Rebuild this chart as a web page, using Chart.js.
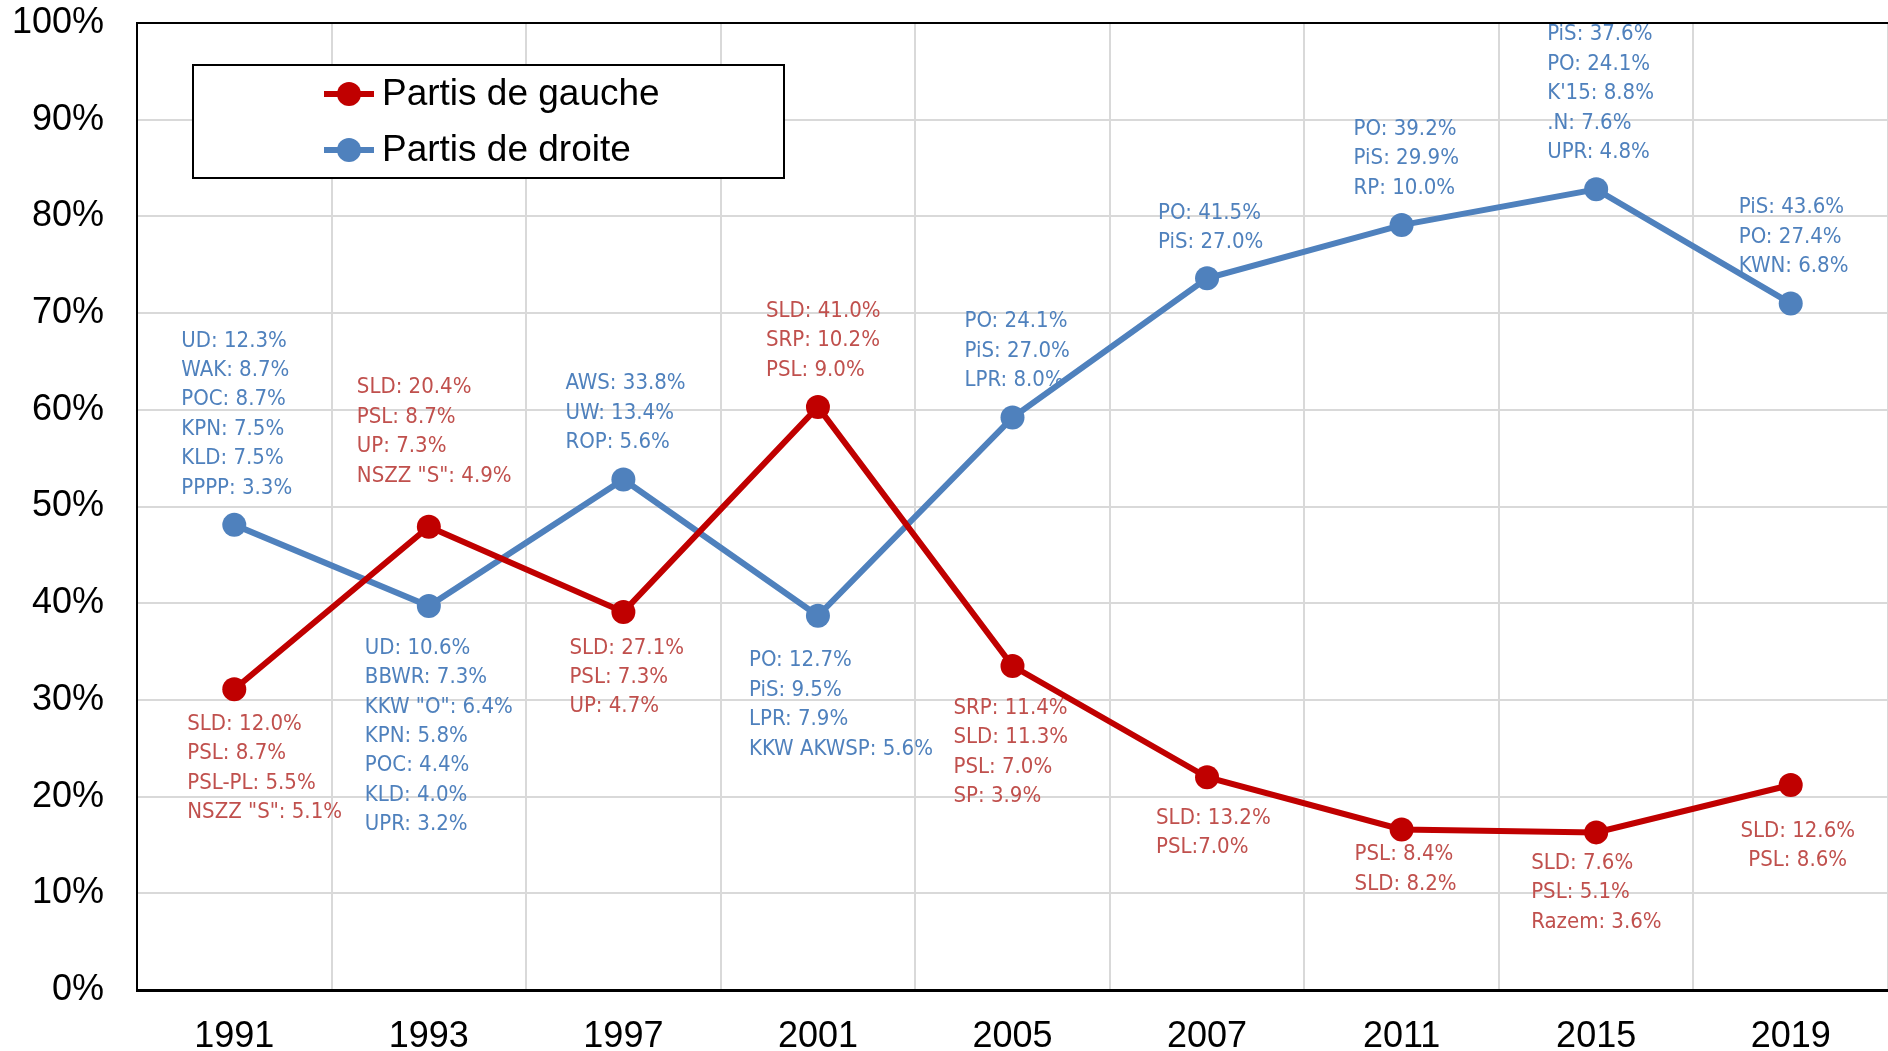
<!DOCTYPE html>
<html>
<head>
<meta charset="utf-8">
<script src="https://cdn.jsdelivr.net/npm/chart.js@4"></script>
<style>
html, body { margin: 0; padding: 0; background: #fff; overflow: hidden; }
canvas { display: block; }
</style>
</head>
<body>
<canvas id="chart" width="1888" height="1051"></canvas>
<script>
// categories and values
const years = ['1991', '1993', '1997', '2001', '2005', '2007', '2011', '2015', '2019'];
const gauche = [31.1, 47.9, 39.1, 60.3, 33.5, 22.0, 16.6, 16.3, 21.2];
const droite = [48.1, 39.7, 52.8, 38.7, 59.2, 73.6, 79.1, 82.8, 71.0];
const yTickStep = 10;

const gaucheNotes = [
  ['SLD: 12.0%', 'PSL: 8.7%', 'PSL-PL: 5.5%', 'NSZZ "S": 5.1%'],
  ['SLD: 20.4%', 'PSL: 8.7%', 'UP: 7.3%', 'NSZZ "S": 4.9%'],
  ['SLD: 27.1%', 'PSL: 7.3%', 'UP: 4.7%'],
  ['SLD: 41.0%', 'SRP: 10.2%', 'PSL: 9.0%'],
  ['SRP: 11.4%', 'SLD: 11.3%', 'PSL: 7.0%', 'SP: 3.9%'],
  ['SLD: 13.2%', 'PSL:7.0%'],
  ['PSL: 8.4%', 'SLD: 8.2%'],
  ['SLD: 7.6%', 'PSL: 5.1%', 'Razem: 3.6%'],
  ['SLD: 12.6%', 'PSL: 8.6%']
];
const droiteNotes = [
  ['UD: 12.3%', 'WAK: 8.7%', 'POC: 8.7%', 'KPN: 7.5%', 'KLD: 7.5%', 'PPPP: 3.3%'],
  ['UD: 10.6%', 'BBWR: 7.3%', 'KKW "O": 6.4%', 'KPN: 5.8%', 'POC: 4.4%', 'KLD: 4.0%', 'UPR: 3.2%'],
  ['AWS: 33.8%', 'UW: 13.4%', 'ROP: 5.6%'],
  ['PO: 12.7%', 'PiS: 9.5%', 'LPR: 7.9%', 'KKW AKWSP: 5.6%'],
  ['PO: 24.1%', 'PiS: 27.0%', 'LPR: 8.0%'],
  ['PO: 41.5%', 'PiS: 27.0%'],
  ['PO: 39.2%', 'PiS: 29.9%', 'RP: 10.0%'],
  ['PiS: 37.6%', 'PO: 24.1%', "K'15: 8.8%", '.N: 7.6%', 'UPR: 4.8%'],
  ['PiS: 43.6%', 'PO: 27.4%', 'KWN: 6.8%']
];

// where each note block sits relative to its point: [dx, dy, side, align]
const gauchePlace = [
  [-47, 35, 'below'], [-72, -51, 'above'], [-54, 36, 'below'], [-52, -37, 'above'],
  [-59, 42, 'below'], [-51, 41, 'below'], [-47, 25, 'below'], [-65, 31, 'below'],
  [7, 46, 'below', 'center']
];
const droitePlace = [
  [-53, -37, 'above'], [-64, 42, 'below'], [-58, -37, 'above'], [-69, 45, 'below'],
  [-48, -37, 'above'], [-49, -36, 'above'], [-48, -37, 'above'], [-49, -37, 'above'],
  [-52, -37, 'above']
];

const RED = '#C00000';
const BLUE = '#4F81BD';
const axisFont = "'Liberation Sans', Arial, sans-serif";
const noteFont = "'Liberation Sans Narrow', 'Arial Narrow', 'DejaVu Sans Condensed', sans-serif";
const lineH = 29.4;

// text blocks next to each point
const notesPlugin = {
  id: 'notes',
  beforeDatasetsDraw(chart) {
    const ctx = chart.ctx;
    const sets = [
      { notes: gaucheNotes, place: gauchePlace, color: '#C0504D', idx: 0 },
      { notes: droiteNotes, place: droitePlace, color: '#4F81BD', idx: 1 }
    ];
    ctx.save();
    ctx.font = '22px ' + noteFont;
    ctx.textBaseline = 'middle';
    sets.forEach(s => {
      const meta = chart.getDatasetMeta(s.idx);
      ctx.fillStyle = s.color;
      meta.data.forEach((pt, j) => {
        const lines = s.notes[j];
        const [dx, dy, side, align] = s.place[j];
        ctx.textAlign = align === 'center' ? 'center' : 'left';
        let y0 = pt.y + dy;
        if (side === 'above') y0 -= (lines.length - 1) * lineH;
        lines.forEach((t, k) => ctx.fillText(t, pt.x + dx, y0 + k * lineH));
      });
    });
    ctx.restore();
  }
};

// plot frame top line + boxed legend inside the plot
const framePlugin = {
  id: 'frame',
  afterDraw(chart) {
    const ctx = chart.ctx;
    const a = chart.chartArea;
    ctx.save();
    ctx.strokeStyle = '#000';
    ctx.lineWidth = 2;
    ctx.beginPath();
    ctx.moveTo(a.left, a.top);
    ctx.lineTo(a.right, a.top);
    ctx.stroke();

    // legend
    ctx.fillStyle = '#fff';
    ctx.fillRect(193, 65, 591, 113);
    ctx.strokeRect(193, 65, 591, 113);
    const items = [
      { text: chart.data.datasets[0].label, color: RED, y: 94 },
      { text: chart.data.datasets[1].label, color: BLUE, y: 150 }
    ];
    items.forEach(it => {
      ctx.strokeStyle = it.color;
      ctx.lineWidth = 6;
      ctx.beginPath();
      ctx.moveTo(324, it.y);
      ctx.lineTo(374, it.y);
      ctx.stroke();
      ctx.fillStyle = it.color;
      ctx.beginPath();
      ctx.arc(349, it.y, 12, 0, Math.PI * 2);
      ctx.fill();
      ctx.fillStyle = '#000';
      ctx.font = '37px ' + axisFont;
      ctx.textAlign = 'left';
      ctx.textBaseline = 'middle';
      ctx.fillText(it.text, 382, it.y + 1);
    });
    ctx.restore();
  }
};

const ctx = document.getElementById('chart').getContext('2d');

new Chart(ctx, {
  type: 'line',
  data: {
    labels: years,
    datasets: [{
      label: 'Partis de gauche',
      data: gauche,
      borderColor: RED,
      backgroundColor: RED,
      borderWidth: 6,
      pointRadius: 12,
      pointHoverRadius: 12,
      pointBorderWidth: 0,
      tension: 0
    }, {
      label: 'Partis de droite',
      data: droite,
      borderColor: BLUE,
      backgroundColor: BLUE,
      borderWidth: 6,
      pointRadius: 12,
      pointHoverRadius: 12,
      pointBorderWidth: 0,
      tension: 0
    }]
  },
  options: {
    responsive: false,
    animation: false,
    layout: { autoPadding: false, padding: { top: 23, right: 0, bottom: 0, left: 0 } },
    plugins: {
      legend: { display: false },
      tooltip: { enabled: false }
    },
    scales: {
      x: {
        offset: true,
        grid: { offset: true, color: '#d9d9d9', lineWidth: 2, drawTicks: false },
        border: { color: '#000', width: 3 },
        ticks: {
          color: '#000',
          font: { family: axisFont, size: 36 },
          padding: 25,
          maxRotation: 0
        },
        afterFit: s => { s.height = 61; s.paddingLeft = 0; s.paddingRight = 0; }
      },
      y: {
        min: 0,
        max: 100,
        grid: { color: '#d9d9d9', lineWidth: 2, drawTicks: false },
        border: { color: '#000', width: 2 },
        ticks: {
          stepSize: yTickStep,
          color: '#000',
          font: { family: axisFont, size: 36 },
          padding: 33,
          callback: v => v + '%'
        },
        afterFit: s => { s.width = 137; s.paddingTop = 0; s.paddingBottom = 0; }
      }
    }
  },
  plugins: [notesPlugin, framePlugin]
});
</script>
</body>
</html>
